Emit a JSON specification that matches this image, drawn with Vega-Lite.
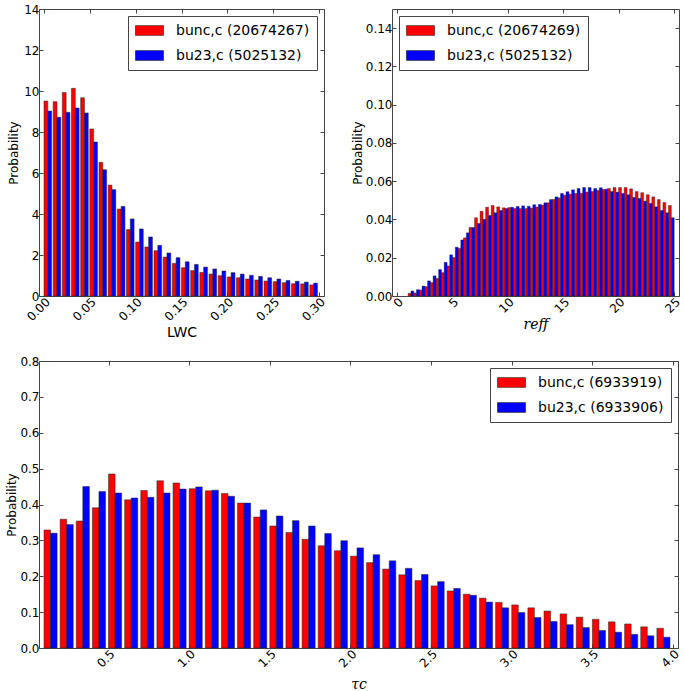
{
  "$schema": "https://vega.github.io/schema/vega-lite/v6.json",
  "background": "white",
  "padding": {"left": 5, "top": 2, "right": 5, "bottom": 5},
  "spacing": 13,
  "datasets": {
    "lwc": [
      {"b":0.00,"s":"nc","p":9.51},{"b":0.01,"s":"nc","p":9.48},{"b":0.02,"s":"nc","p":9.93},{"b":0.03,"s":"nc","p":10.13},{"b":0.04,"s":"nc","p":9.67},
      {"b":0.05,"s":"nc","p":8.15},{"b":0.06,"s":"nc","p":6.52},{"b":0.07,"s":"nc","p":5.41},{"b":0.08,"s":"nc","p":4.24},{"b":0.09,"s":"nc","p":3.24},
      {"b":0.10,"s":"nc","p":2.63},{"b":0.11,"s":"nc","p":2.39},{"b":0.12,"s":"nc","p":2.21},{"b":0.13,"s":"nc","p":1.90},{"b":0.14,"s":"nc","p":1.59},
      {"b":0.15,"s":"nc","p":1.38},{"b":0.16,"s":"nc","p":1.24},{"b":0.17,"s":"nc","p":1.15},{"b":0.18,"s":"nc","p":1.07},{"b":0.19,"s":"nc","p":0.99},
      {"b":0.20,"s":"nc","p":0.93},{"b":0.21,"s":"nc","p":0.89},{"b":0.22,"s":"nc","p":0.83},{"b":0.23,"s":"nc","p":0.78},{"b":0.24,"s":"nc","p":0.73},
      {"b":0.25,"s":"nc","p":0.70},{"b":0.26,"s":"nc","p":0.65},{"b":0.27,"s":"nc","p":0.60},{"b":0.28,"s":"nc","p":0.59},{"b":0.29,"s":"nc","p":0.54},
      {"b":0.00,"s":"23","p":9.02},{"b":0.01,"s":"23","p":8.72},{"b":0.02,"s":"23","p":8.96},{"b":0.03,"s":"23","p":9.17},{"b":0.04,"s":"23","p":8.93},
      {"b":0.05,"s":"23","p":7.51},{"b":0.06,"s":"23","p":6.16},{"b":0.07,"s":"23","p":5.19},{"b":0.08,"s":"23","p":4.37},{"b":0.09,"s":"23","p":3.76},
      {"b":0.10,"s":"23","p":3.27},{"b":0.11,"s":"23","p":2.88},{"b":0.12,"s":"23","p":2.47},{"b":0.13,"s":"23","p":2.10},{"b":0.14,"s":"23","p":1.87},
      {"b":0.15,"s":"23","p":1.67},{"b":0.16,"s":"23","p":1.54},{"b":0.17,"s":"23","p":1.41},{"b":0.18,"s":"23","p":1.32},{"b":0.19,"s":"23","p":1.22},
      {"b":0.20,"s":"23","p":1.14},{"b":0.21,"s":"23","p":1.07},{"b":0.22,"s":"23","p":1.01},{"b":0.23,"s":"23","p":0.96},{"b":0.24,"s":"23","p":0.89},
      {"b":0.25,"s":"23","p":0.83},{"b":0.26,"s":"23","p":0.76},{"b":0.27,"s":"23","p":0.72},{"b":0.28,"s":"23","p":0.68},{"b":0.29,"s":"23","p":0.63}
    ],
    "reff": [
      {"b":1.0,"s":"nc","p":0.0014},{"b":1.5,"s":"nc","p":0.0016},{"b":2.0,"s":"nc","p":0.0031},{"b":2.5,"s":"nc","p":0.0049},{"b":3.0,"s":"nc","p":0.0070},
      {"b":3.5,"s":"nc","p":0.0092},{"b":4.0,"s":"nc","p":0.0122},{"b":4.5,"s":"nc","p":0.0157},{"b":5.0,"s":"nc","p":0.0201},{"b":5.5,"s":"nc","p":0.0249},
      {"b":6.0,"s":"nc","p":0.0304},{"b":6.5,"s":"nc","p":0.0358},{"b":7.0,"s":"nc","p":0.0409},{"b":7.5,"s":"nc","p":0.0443},{"b":8.0,"s":"nc","p":0.0464},
      {"b":8.5,"s":"nc","p":0.0473},{"b":9.0,"s":"nc","p":0.0466},{"b":9.5,"s":"nc","p":0.0461},{"b":10.0,"s":"nc","p":0.0462},{"b":10.5,"s":"nc","p":0.0457},
      {"b":11.0,"s":"nc","p":0.0457},{"b":11.5,"s":"nc","p":0.0457},{"b":12.0,"s":"nc","p":0.0459},{"b":12.5,"s":"nc","p":0.0465},{"b":13.0,"s":"nc","p":0.0475},
      {"b":13.5,"s":"nc","p":0.0487},{"b":14.0,"s":"nc","p":0.0504},{"b":14.5,"s":"nc","p":0.0513},{"b":15.0,"s":"nc","p":0.0527},{"b":15.5,"s":"nc","p":0.0532},
      {"b":16.0,"s":"nc","p":0.0536},{"b":16.5,"s":"nc","p":0.0537},{"b":17.0,"s":"nc","p":0.0543},{"b":17.5,"s":"nc","p":0.0546},{"b":18.0,"s":"nc","p":0.0552},
      {"b":18.5,"s":"nc","p":0.0557},{"b":19.0,"s":"nc","p":0.0562},{"b":19.5,"s":"nc","p":0.0567},{"b":20.0,"s":"nc","p":0.0567},{"b":20.5,"s":"nc","p":0.0567},
      {"b":21.0,"s":"nc","p":0.0560},{"b":21.5,"s":"nc","p":0.0546},{"b":22.0,"s":"nc","p":0.0540},{"b":22.5,"s":"nc","p":0.0529},{"b":23.0,"s":"nc","p":0.0518},
      {"b":23.5,"s":"nc","p":0.0504},{"b":24.0,"s":"nc","p":0.0489},{"b":24.5,"s":"nc","p":0.0473},
      {"b":1.0,"s":"23","p":0.0026},{"b":1.5,"s":"23","p":0.0033},{"b":2.0,"s":"23","p":0.0052},{"b":2.5,"s":"23","p":0.0079},{"b":3.0,"s":"23","p":0.0105},
      {"b":3.5,"s":"23","p":0.0138},{"b":4.0,"s":"23","p":0.0176},{"b":4.5,"s":"23","p":0.0215},{"b":5.0,"s":"23","p":0.0255},{"b":5.5,"s":"23","p":0.0293},
      {"b":6.0,"s":"23","p":0.0330},{"b":6.5,"s":"23","p":0.0358},{"b":7.0,"s":"23","p":0.0379},{"b":7.5,"s":"23","p":0.0401},{"b":8.0,"s":"23","p":0.0421},
      {"b":8.5,"s":"23","p":0.0435},{"b":9.0,"s":"23","p":0.0447},{"b":9.5,"s":"23","p":0.0457},{"b":10.0,"s":"23","p":0.0464},{"b":10.5,"s":"23","p":0.0468},
      {"b":11.0,"s":"23","p":0.0471},{"b":11.5,"s":"23","p":0.0469},{"b":12.0,"s":"23","p":0.0477},{"b":12.5,"s":"23","p":0.0479},{"b":13.0,"s":"23","p":0.0487},
      {"b":13.5,"s":"23","p":0.0504},{"b":14.0,"s":"23","p":0.0518},{"b":14.5,"s":"23","p":0.0536},{"b":15.0,"s":"23","p":0.0545},{"b":15.5,"s":"23","p":0.0555},
      {"b":16.0,"s":"23","p":0.0562},{"b":16.5,"s":"23","p":0.0567},{"b":17.0,"s":"23","p":0.0567},{"b":17.5,"s":"23","p":0.0562},{"b":18.0,"s":"23","p":0.0566},
      {"b":18.5,"s":"23","p":0.0558},{"b":19.0,"s":"23","p":0.0546},{"b":19.5,"s":"23","p":0.0543},{"b":20.0,"s":"23","p":0.0536},{"b":20.5,"s":"23","p":0.0529},
      {"b":21.0,"s":"23","p":0.0515},{"b":21.5,"s":"23","p":0.0510},{"b":22.0,"s":"23","p":0.0496},{"b":22.5,"s":"23","p":0.0484},{"b":23.0,"s":"23","p":0.0466},
      {"b":23.5,"s":"23","p":0.0447},{"b":24.0,"s":"23","p":0.0435},{"b":24.5,"s":"23","p":0.0409}
    ],
    "tau": [
      {"b":0.1,"s":"nc","p":0.329},{"b":0.2,"s":"nc","p":0.359},{"b":0.3,"s":"nc","p":0.354},{"b":0.4,"s":"nc","p":0.391},{"b":0.5,"s":"nc","p":0.485},
      {"b":0.6,"s":"nc","p":0.413},{"b":0.7,"s":"nc","p":0.439},{"b":0.8,"s":"nc","p":0.466},{"b":0.9,"s":"nc","p":0.460},{"b":1.0,"s":"nc","p":0.444},
      {"b":1.1,"s":"nc","p":0.438},{"b":1.2,"s":"nc","p":0.431},{"b":1.3,"s":"nc","p":0.404},{"b":1.4,"s":"nc","p":0.365},{"b":1.5,"s":"nc","p":0.340},
      {"b":1.6,"s":"nc","p":0.322},{"b":1.7,"s":"nc","p":0.303},{"b":1.8,"s":"nc","p":0.285},{"b":1.9,"s":"nc","p":0.271},{"b":2.0,"s":"nc","p":0.256},
      {"b":2.1,"s":"nc","p":0.238},{"b":2.2,"s":"nc","p":0.220},{"b":2.3,"s":"nc","p":0.204},{"b":2.4,"s":"nc","p":0.188},{"b":2.5,"s":"nc","p":0.173},
      {"b":2.6,"s":"nc","p":0.159},{"b":2.7,"s":"nc","p":0.150},{"b":2.8,"s":"nc","p":0.139},{"b":2.9,"s":"nc","p":0.127},{"b":3.0,"s":"nc","p":0.120},
      {"b":3.1,"s":"nc","p":0.112},{"b":3.2,"s":"nc","p":0.103},{"b":3.3,"s":"nc","p":0.095},{"b":3.4,"s":"nc","p":0.086},{"b":3.5,"s":"nc","p":0.080},
      {"b":3.6,"s":"nc","p":0.073},{"b":3.7,"s":"nc","p":0.067},{"b":3.8,"s":"nc","p":0.059},{"b":3.9,"s":"nc","p":0.055},
      {"b":0.1,"s":"23","p":0.320},{"b":0.2,"s":"23","p":0.344},{"b":0.3,"s":"23","p":0.450},{"b":0.4,"s":"23","p":0.436},{"b":0.5,"s":"23","p":0.432},
      {"b":0.6,"s":"23","p":0.418},{"b":0.7,"s":"23","p":0.420},{"b":0.8,"s":"23","p":0.432},{"b":0.9,"s":"23","p":0.443},{"b":1.0,"s":"23","p":0.449},
      {"b":1.1,"s":"23","p":0.440},{"b":1.2,"s":"23","p":0.423},{"b":1.3,"s":"23","p":0.404},{"b":1.4,"s":"23","p":0.385},{"b":1.5,"s":"23","p":0.368},
      {"b":1.6,"s":"23","p":0.355},{"b":1.7,"s":"23","p":0.340},{"b":1.8,"s":"23","p":0.319},{"b":1.9,"s":"23","p":0.299},{"b":2.0,"s":"23","p":0.279},
      {"b":2.1,"s":"23","p":0.260},{"b":2.2,"s":"23","p":0.243},{"b":2.3,"s":"23","p":0.222},{"b":2.4,"s":"23","p":0.205},{"b":2.5,"s":"23","p":0.185},
      {"b":2.6,"s":"23","p":0.166},{"b":2.7,"s":"23","p":0.147},{"b":2.8,"s":"23","p":0.128},{"b":2.9,"s":"23","p":0.112},{"b":3.0,"s":"23","p":0.099},
      {"b":3.1,"s":"23","p":0.085},{"b":3.2,"s":"23","p":0.074},{"b":3.3,"s":"23","p":0.065},{"b":3.4,"s":"23","p":0.057},{"b":3.5,"s":"23","p":0.049},
      {"b":3.6,"s":"23","p":0.044},{"b":3.7,"s":"23","p":0.038},{"b":3.8,"s":"23","p":0.034},{"b":3.9,"s":"23","p":0.030}
    ]
  },
  "vconcat": [
    {
      "hconcat": [
        {
          "width": 285, "height": 287,
          "data": {"name": "lwc"},
          "resolve": {"axis": {"x": "independent", "y": "independent"}},
          "layer": [
            {
              "transform": [{"filter": "datum.s == 'nc'"}],
              "mark": {"type": "bar", "width": 3.8, "xOffset": 1.9, "stroke": "#222", "strokeWidth": 0.5},
              "encoding": {
                "x": {"field": "b", "type": "quantitative", "scale": {"domain": [0, 0.3], "nice": false},
                      "axis": {"title": "LWC", "values": [0, 0.05, 0.1, 0.15, 0.2, 0.25, 0.3], "format": ".2f", "labelAngle": -45, "titleFontSize": 14}},
                "y": {"field": "p", "type": "quantitative", "scale": {"domain": [0, 14], "nice": false},
                      "axis": {"title": "Probability", "values": [0, 2, 4, 6, 8, 10, 12, 14], "format": "d"}},
                "color": {"field": "s", "type": "nominal", "scale": {"domain": ["nc", "23"], "range": ["#ff0000", "#0000ff"]},
                          "legend": {"orient": "top-right", "labelExpr": "datum.value == 'nc' ? 'bunc,c (20674267)' : 'bu23,c (5025132)'"}}
              }
            },
            {
              "transform": [{"filter": "datum.s == '23'"}],
              "mark": {"type": "bar", "width": 3.8, "xOffset": 5.7, "stroke": "#222", "strokeWidth": 0.5},
              "encoding": {
                "x": {"field": "b", "type": "quantitative", "axis": {"orient": "top", "labels": false, "title": null, "values": [0, 0.05, 0.1, 0.15, 0.2, 0.25, 0.3]}},
                "y": {"field": "p", "type": "quantitative", "axis": {"orient": "right", "labels": false, "title": null, "values": [0, 2, 4, 6, 8, 10, 12, 14]}},
                "color": {"field": "s", "type": "nominal"}
              }
            }
          ]
        },
        {
          "width": 287, "height": 287,
          "data": {"name": "reff"},
          "resolve": {"axis": {"x": "independent", "y": "independent"}},
          "layer": [
            {
              "transform": [{"filter": "datum.s == 'nc'"}],
              "mark": {"type": "bar", "width": 2.87, "xOffset": 1.435, "stroke": "#222", "strokeWidth": 0.4},
              "encoding": {
                "x": {"field": "b", "type": "quantitative", "scale": {"domain": [0, 25], "nice": false},
                      "axis": {"title": "reff", "values": [0, 5, 10, 15, 20, 25], "format": "d", "labelAngle": -45, "titleFont": "DejaVu Serif", "titleFontStyle": "italic", "titleFontSize": 14}},
                "y": {"field": "p", "type": "quantitative", "scale": {"domain": [0, 0.15], "nice": false},
                      "axis": {"title": "Probability", "values": [0, 0.02, 0.04, 0.06, 0.08, 0.1, 0.12, 0.14], "format": ".2f", "titlePadding": 1}},
                "color": {"field": "s", "type": "nominal", "scale": {"domain": ["nc", "23"], "range": ["#ff0000", "#0000ff"]},
                          "legend": {"orient": "top-left", "labelExpr": "datum.value == 'nc' ? 'bunc,c (20674269)' : 'bu23,c (5025132)'"}}
              }
            },
            {
              "transform": [{"filter": "datum.s == '23'"}],
              "mark": {"type": "bar", "width": 2.87, "xOffset": 4.305, "stroke": "#222", "strokeWidth": 0.4},
              "encoding": {
                "x": {"field": "b", "type": "quantitative", "axis": {"orient": "top", "labels": false, "title": null, "values": [0, 5, 10, 15, 20, 25]}},
                "y": {"field": "p", "type": "quantitative", "axis": {"orient": "right", "labels": false, "title": null, "values": [0, 0.02, 0.04, 0.06, 0.08, 0.1, 0.12, 0.14]}},
                "color": {"field": "s", "type": "nominal"}
              }
            }
          ]
        }
      ],
      "spacing": 22,
      "resolve": {"scale": {"color": "independent"}, "legend": {"color": "independent"}}
    },
    {
      "width": 639, "height": 287,
      "data": {"name": "tau"},
      "resolve": {"axis": {"x": "independent", "y": "independent"}},
      "layer": [
        {
          "transform": [{"filter": "datum.s == 'nc'"}],
          "mark": {"type": "bar", "width": 6.55, "xOffset": 3.28, "stroke": "#222", "strokeWidth": 0.5},
          "encoding": {
            "x": {"field": "b", "type": "quantitative", "scale": {"domain": [0.1, 4.0], "nice": false, "zero": false},
                  "axis": {"title": "τc", "values": [0.5, 1, 1.5, 2, 2.5, 3, 3.5, 4], "format": ".1f", "labelAngle": -45, "titleFont": "DejaVu Serif", "titleFontStyle": "italic", "titleFontSize": 14, "titlePadding": 8}},
            "y": {"field": "p", "type": "quantitative", "scale": {"domain": [0, 0.8], "nice": false},
                  "axis": {"title": "Probability", "values": [0, 0.1, 0.2, 0.3, 0.4, 0.5, 0.6, 0.7, 0.8], "format": ".1f", "titlePadding": 1}},
            "color": {"field": "s", "type": "nominal", "scale": {"domain": ["nc", "23"], "range": ["#ff0000", "#0000ff"]},
                      "legend": {"orient": "top-right", "labelExpr": "datum.value == 'nc' ? 'bunc,c (6933919)' : 'bu23,c (6933906)'"}}
          }
        },
        {
          "transform": [{"filter": "datum.s == '23'"}],
          "mark": {"type": "bar", "width": 6.55, "xOffset": 9.83, "stroke": "#222", "strokeWidth": 0.5},
          "encoding": {
            "x": {"field": "b", "type": "quantitative", "axis": {"orient": "top", "labels": false, "title": null, "values": [0.5, 1, 1.5, 2, 2.5, 3, 3.5, 4]}},
            "y": {"field": "p", "type": "quantitative", "axis": {"orient": "right", "labels": false, "title": null, "values": [0, 0.1, 0.2, 0.3, 0.4, 0.5, 0.6, 0.7, 0.8]}},
            "color": {"field": "s", "type": "nominal"}
          }
        }
      ]
    }
  ],
  "resolve": {"scale": {"color": "independent"}, "legend": {"color": "independent"}},
  "config": {
    "font": "DejaVu Sans",
    "view": {"stroke": "#444", "strokeWidth": 1},
    "axis": {
      "grid": false, "domain": false, "ticks": true, "tickSize": -4, "tickColor": "#444", "tickWidth": 1,
      "labelFontSize": 12, "labelColor": "black", "labelPadding": 4, "labelFlush": false, "labelOverlap": false,
      "titleFontSize": 12, "titleFontWeight": "normal", "titleColor": "black", "titlePadding": 3
    },
    "legend": {
      "title": null, "offset": 7, "padding": 7, "fillColor": "white", "strokeColor": "#444",
      "symbolType": "M-1,-0.7H3V0.7H-1Z", "symbolSize": 196, "symbolStrokeColor": "black", "symbolStrokeWidth": 0.5, "symbolOpacity": 1,
      "labelFontSize": 14, "labelColor": "black", "labelOffset": 26, "rowPadding": 10, "labelLimit": 400
    }
  }
}
